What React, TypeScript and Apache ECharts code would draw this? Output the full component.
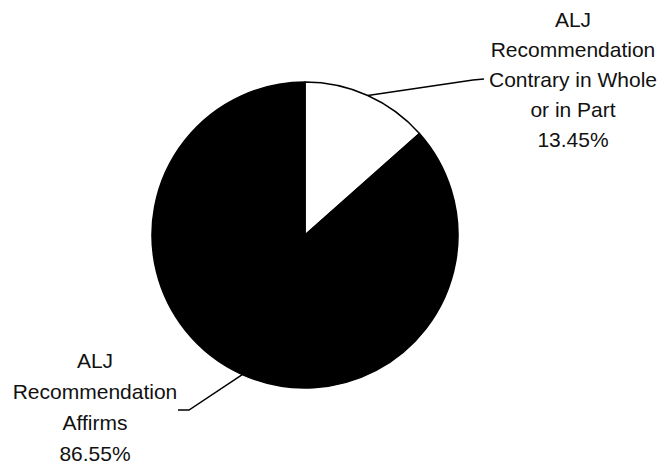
import React, { useEffect, useRef } from "react";
import * as echarts from "echarts";

const categories: string[] = [
  "ALJ\nRecommendation\nContrary in Whole\nor in Part",
  "ALJ\nRecommendation\nAffirms",
];
const shares: number[] = [13.45, 86.55];
const sliceColors: string[] = ["#ffffff", "#000000"];

export default function App() {
  const ref = useRef<HTMLDivElement>(null);
  useEffect(() => {
    if (!ref.current) return;
    const chart = echarts.init(ref.current, undefined, { renderer: "svg" });
    const labelSpots = [
      { x: 573, y: 79, bend: [473, 80], end: [484, 79], lh: 30 },
      { x: 95, y: 407, bend: [189, 410], end: [178, 410], lh: 31 },
    ];
    chart.setOption({
      animation: false,
      backgroundColor: "#ffffff",
      series: [
        {
          type: "pie",
          center: [305, 235],
          radius: 153,
          startAngle: 90,
          clockwise: true,
          avoidLabelOverlap: false,
          data: categories.map((name, i) => ({
            name,
            value: shares[i],
            itemStyle: { color: sliceColors[i] },
            label: { lineHeight: labelSpots[i].lh },
          })),
          itemStyle: { borderColor: "#000000", borderWidth: 1.5 },
          label: {
            show: true,
            position: "outside",
            formatter: "{b}\n{d}%",
            fontFamily: "Liberation Sans, Arial, sans-serif",
            fontSize: 21,
            color: "#111111",
            align: "center",
          },
          labelLine: {
            show: true,
            lineStyle: { color: "#000000", width: 1.5 },
          },
          labelLayout: (params: any) => {
            const s = labelSpots[params.dataIndex];
            const start =
              params.labelLinePoints && params.labelLinePoints[0]
                ? params.labelLinePoints[0]
                : [0, 0];
            return {
              x: s.x,
              y: s.y,
              align: "center",
              verticalAlign: "middle",
              labelLinePoints: [start, s.bend, s.end],
            };
          },
          emphasis: { disabled: true },
        },
      ],
    });
    return () => chart.dispose();
  }, []);
  return (
    <div
      ref={ref}
      style={{ position: "fixed", left: 0, top: 0, width: 660, height: 465 }}
    />
  );
}
